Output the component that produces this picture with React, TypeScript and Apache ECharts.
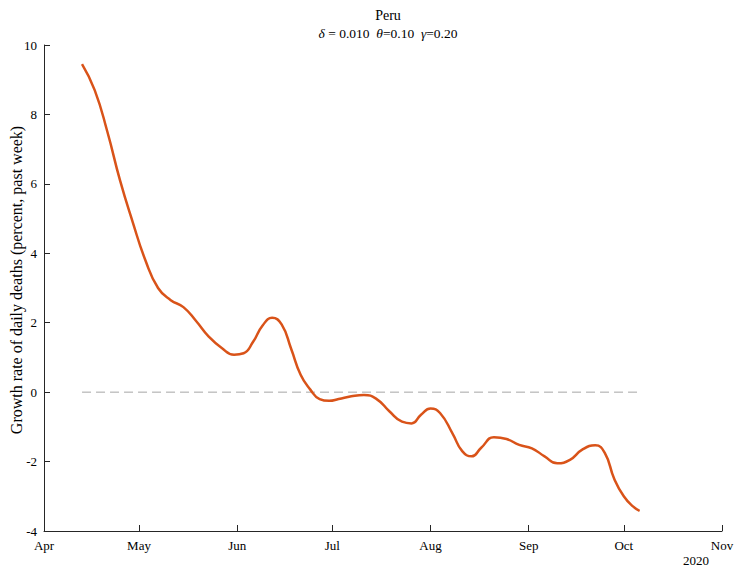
import React, { useEffect, useRef } from "react";
import * as echarts from "echarts";

const dates: string[] = [
  "2020-04-13", "2020-04-17", "2020-04-21", "2020-04-25", "2020-04-29",
  "2020-05-03", "2020-05-07", "2020-05-11", "2020-05-15", "2020-05-19",
  "2020-05-23", "2020-05-27", "2020-05-31", "2020-06-03", "2020-06-06",
  "2020-06-09", "2020-06-12", "2020-06-15", "2020-06-18", "2020-06-21",
  "2020-06-24", "2020-06-27", "2020-06-30", "2020-07-03", "2020-07-07",
  "2020-07-11", "2020-07-15", "2020-07-19", "2020-07-23", "2020-07-26",
  "2020-07-29", "2020-08-01", "2020-08-04", "2020-08-08", "2020-08-11",
  "2020-08-14", "2020-08-17", "2020-08-21", "2020-08-25", "2020-08-29",
  "2020-09-02", "2020-09-06", "2020-09-10", "2020-09-14", "2020-09-18",
  "2020-09-22", "2020-09-25", "2020-09-28", "2020-10-01", "2020-10-04",
  "2020-10-06",
];
const growth: number[] = [
  9.45, 8.7, 7.5, 6.1, 4.9,
  3.8, 3.0, 2.65, 2.45, 2.05,
  1.6, 1.28, 1.08, 1.12, 1.45,
  1.92, 2.14, 1.95, 1.25, 0.5,
  0.08, -0.2, -0.25, -0.2, -0.12,
  -0.08, -0.2, -0.55, -0.85, -0.9,
  -0.65, -0.47, -0.6, -1.2, -1.7,
  -1.85, -1.6, -1.3, -1.35, -1.52,
  -1.62, -1.85, -2.05, -1.95, -1.65,
  -1.53, -1.75, -2.5, -3.0, -3.3,
  -3.42,
];
const monthTicks: string[] = [
  "2020-04-01", "2020-05-01", "2020-06-01", "2020-07-01",
  "2020-08-01", "2020-09-01", "2020-10-01", "2020-11-01",
];
const monthNames: string[] = ["Apr", "May", "Jun", "Jul", "Aug", "Sep", "Oct", "Nov"];
const yTicks: number[] = [-4, -2, 0, 2, 4, 6, 8, 10];
const titleText = "Peru";
const subtitleText = "{i|\u03b4} = 0.010  {i|\u03b8}=0.10  {i|\u03b3}=0.20";
const yAxisName = "Growth rate of daily deaths (percent, past week)";
const yearText = "2020";

const ts = (d: string) => {
  const [y, m, dd] = d.split("-").map(Number);
  return Date.UTC(y, m - 1, dd);
};

export default function App() {
  const ref = useRef<HTMLDivElement>(null);
  useEffect(() => {
    if (!ref.current) return;
    const chart = echarts.init(ref.current, undefined, { renderer: "svg" });
    const tickVals = monthTicks.map(ts);
    const font = "'Liberation Serif', 'Times New Roman', serif";
    const axisColor = "#262626";
    const lineData = dates.map((d, i) => [ts(d), growth[i]]);
    chart.setOption({
      animation: false,
      backgroundColor: "#ffffff",
      textStyle: { fontFamily: font },
      title: {
        text: titleText,
        subtext: subtitleText,
        left: 383,
        textAlign: "center",
        top: 3,
        itemGap: 4,
        textStyle: { fontFamily: font, fontSize: 14, fontWeight: "normal", color: "#000" },
        subtextStyle: {
          fontFamily: font,
          fontSize: 13.5,
          color: "#000",
          rich: { i: { fontFamily: font, fontSize: 13.5, fontStyle: "italic", color: "#000" } },
        },
      },
      grid: {
        left: 44,
        right: 15,
        top: 45,
        bottom: 37,
        containLabel: false,
        outerBoundsMode: "none",
      },
      xAxis: {
        type: "value",
        min: tickVals[0],
        max: tickVals[tickVals.length - 1],
        splitLine: { show: false },
        axisLine: { show: true, onZero: false, lineStyle: { color: axisColor, width: 1 } },
        axisTick: {
          show: true,
          inside: true,
          length: 6,
          customValues: tickVals,
          lineStyle: { color: axisColor },
        },
        axisLabel: {
          customValues: tickVals,
          formatter: (v: number) => {
            const idx = tickVals.indexOf(v);
            return idx >= 0 ? monthNames[idx] : "";
          },
          color: "#000",
          fontFamily: font,
          fontSize: 13,
          margin: 8,
          showMinLabel: true,
          showMaxLabel: true,
          hideOverlap: false,
        },
      },
      yAxis: {
        type: "value",
        min: -4,
        max: 10,
        interval: 2,
        splitLine: { show: false },
        axisLine: { show: true, lineStyle: { color: axisColor, width: 1 } },
        axisTick: { show: true, inside: true, length: 6, lineStyle: { color: axisColor } },
        axisLabel: {
          color: "#000",
          fontFamily: font,
          fontSize: 13,
          margin: 7,
          formatter: (v: number) => (yTicks.includes(v) ? String(v) : ""),
        },
      },
      graphic: [
        {
          type: "text",
          x: 16,
          y: 280,
          rotation: Math.PI / 2,
          style: {
            text: yAxisName,
            font: `16px ${font}`,
            fill: "#000",
            align: "center",
            verticalAlign: "middle",
          },
        },
        {
          type: "text",
          left: 683,
          top: 554,
          style: { text: yearText, font: `13px ${font}`, fill: "#000" },
        },
      ],
      series: [
        {
          type: "line",
          data: [
            [ts(dates[0]), 0],
            [ts(dates[dates.length - 1]), 0],
          ],
          symbol: "none",
          lineStyle: { color: "#a6a6a6", width: 1, type: [9, 5] },
          silent: true,
          z: 1,
        },
        {
          type: "line",
          data: lineData,
          smooth: 0.5,
          symbol: "none",
          lineStyle: { color: "#D95319", width: 2.5 },
          z: 2,
        },
      ],
    });
    return () => chart.dispose();
  }, []);
  return (
    <div
      ref={ref}
      style={{ position: "fixed", left: 0, top: 0, width: 737, height: 568, background: "#fff" }}
    />
  );
}
